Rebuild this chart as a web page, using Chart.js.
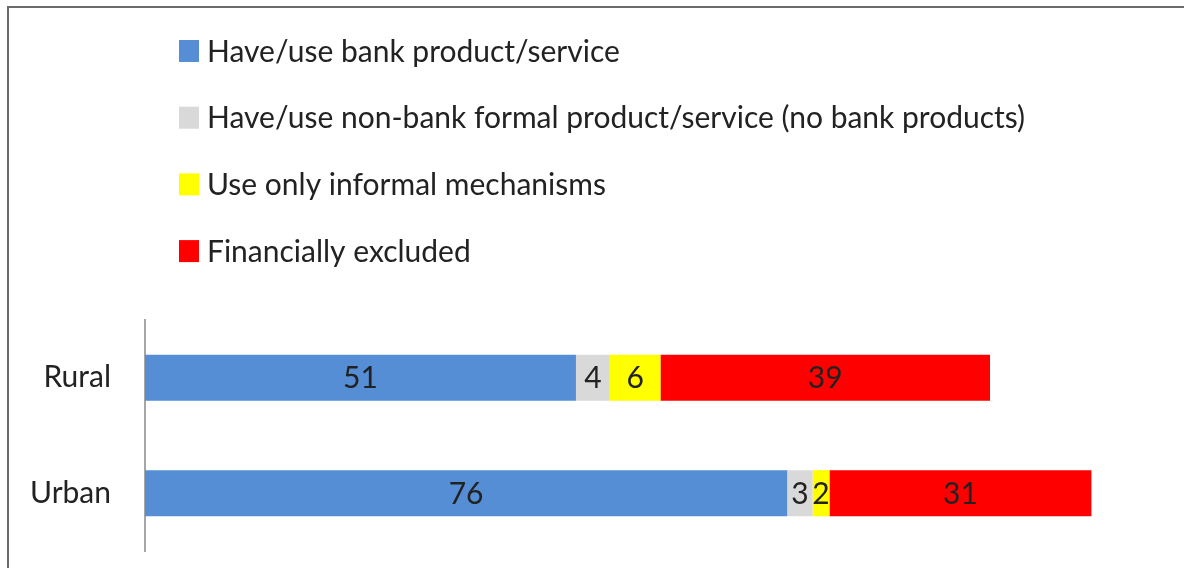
<!DOCTYPE html>
<html>
<head>
<meta charset="utf-8">
<title>Financial inclusion: Rural vs Urban</title>
<script src="https://cdn.jsdelivr.net/npm/chart.js@4/dist/chart.umd.min.js"></script>
<style>
  html, body { margin: 0; padding: 0; background: #ffffff; overflow: hidden; }
  #wrap { position: relative; width: 1184px; height: 568px; overflow: hidden; }
  /* only the top and left edges of the outer frame are on the page */
  #frame {
    position: absolute; left: 7px; top: 6px; width: 1177px; height: 562px;
    border-top: 2px solid #6a6a6a; border-left: 2px solid #6a6a6a;
    border-right: none; border-bottom: none; box-sizing: border-box;
  }
  #chart { position: absolute; left: 0; top: 0; }
</style>
</head>
<body>
<div id="wrap">
  <div id="frame"></div>
  <canvas id="chart" width="1184" height="568"></canvas>
</div>
<script>
// Share of adults (%) by access to financial services
const categories = ['Rural', 'Urban'];
const bankProducts = [51, 76];
const nonBankFormal = [4, 3];
const informalOnly = [6, 2];
const financiallyExcluded = [39, 31];

const seriesLabels = [
  'Have/use bank product/service',
  'Have/use non-bank formal product/service (no bank products)',
  'Use only informal mechanisms',
  'Financially excluded'
];
const seriesColors = ['#558ED5', '#D9D9D9', '#FFFF00', '#FF0000'];

const FONT_FAMILY = 'Lato, "Open Sans", sans-serif';
const FONT_SIZE = 30;
const TEXT_COLOR = '#222222';

// Vertical legend list drawn above the bars
const listLegend = {
  id: 'listLegend',
  afterDraw(chart) {
    const ctx = chart.ctx;
    ctx.save();
    ctx.font = FONT_SIZE + 'px ' + FONT_FAMILY;
    ctx.textBaseline = 'middle';
    ctx.textAlign = 'left';
    chart.data.datasets.forEach((ds, i) => {
      const cy = 51 + i * 66.7;
      ctx.fillStyle = ds.backgroundColor;
      ctx.fillRect(179, cy - 11, 20, 22);
      ctx.fillStyle = TEXT_COLOR;
      ctx.fillText(ds.label, 207, cy + 1);
    });
    ctx.restore();
  }
};

// Values written in the middle of each bar segment
const segmentLabels = {
  id: 'segmentLabels',
  afterDatasetsDraw(chart) {
    const ctx = chart.ctx;
    ctx.save();
    ctx.font = FONT_SIZE + 'px ' + FONT_FAMILY;
    ctx.textBaseline = 'middle';
    ctx.textAlign = 'center';
    ctx.fillStyle = TEXT_COLOR;
    chart.data.datasets.forEach((ds, di) => {
      const meta = chart.getDatasetMeta(di);
      meta.data.forEach((bar, idx) => {
        const v = ds.data[idx];
        const cx = (bar.x + bar.base) / 2;
        ctx.fillText(String(v), cx, bar.y + 1);
      });
    });
    ctx.restore();
  }
};

const datasets = [bankProducts, nonBankFormal, informalOnly, financiallyExcluded].map((values, i) => ({
  label: seriesLabels[i],
  data: values,
  backgroundColor: seriesColors[i],
  borderWidth: 0,
  barPercentage: 0.4,
  categoryPercentage: 1.0
}));

new Chart(document.getElementById('chart'), {
  type: 'bar',
  data: { labels: categories, datasets },
  options: {
    indexAxis: 'y',
    responsive: false,
    animation: false,
    layout: { padding: { top: 320, bottom: 17, left: 0, right: 25 } },
    plugins: {
      legend: { display: false },
      tooltip: { enabled: false }
    },
    scales: {
      x: {
        stacked: true,
        display: false,
        min: 0,
        max: 120
      },
      y: {
        stacked: true,
        grid: { display: false, drawTicks: false },
        border: { display: true, color: '#A6A6A6', width: 2 },
        ticks: {
          color: TEXT_COLOR,
          font: { family: FONT_FAMILY, size: FONT_SIZE },
          padding: 34
        },
        afterFit(scale) {
          scale.width = 145;
          scale.paddingTop = 0;
          scale.paddingBottom = 0;
        }
      }
    }
  },
  plugins: [listLegend, segmentLabels]
});
</script>
</body>
</html>
